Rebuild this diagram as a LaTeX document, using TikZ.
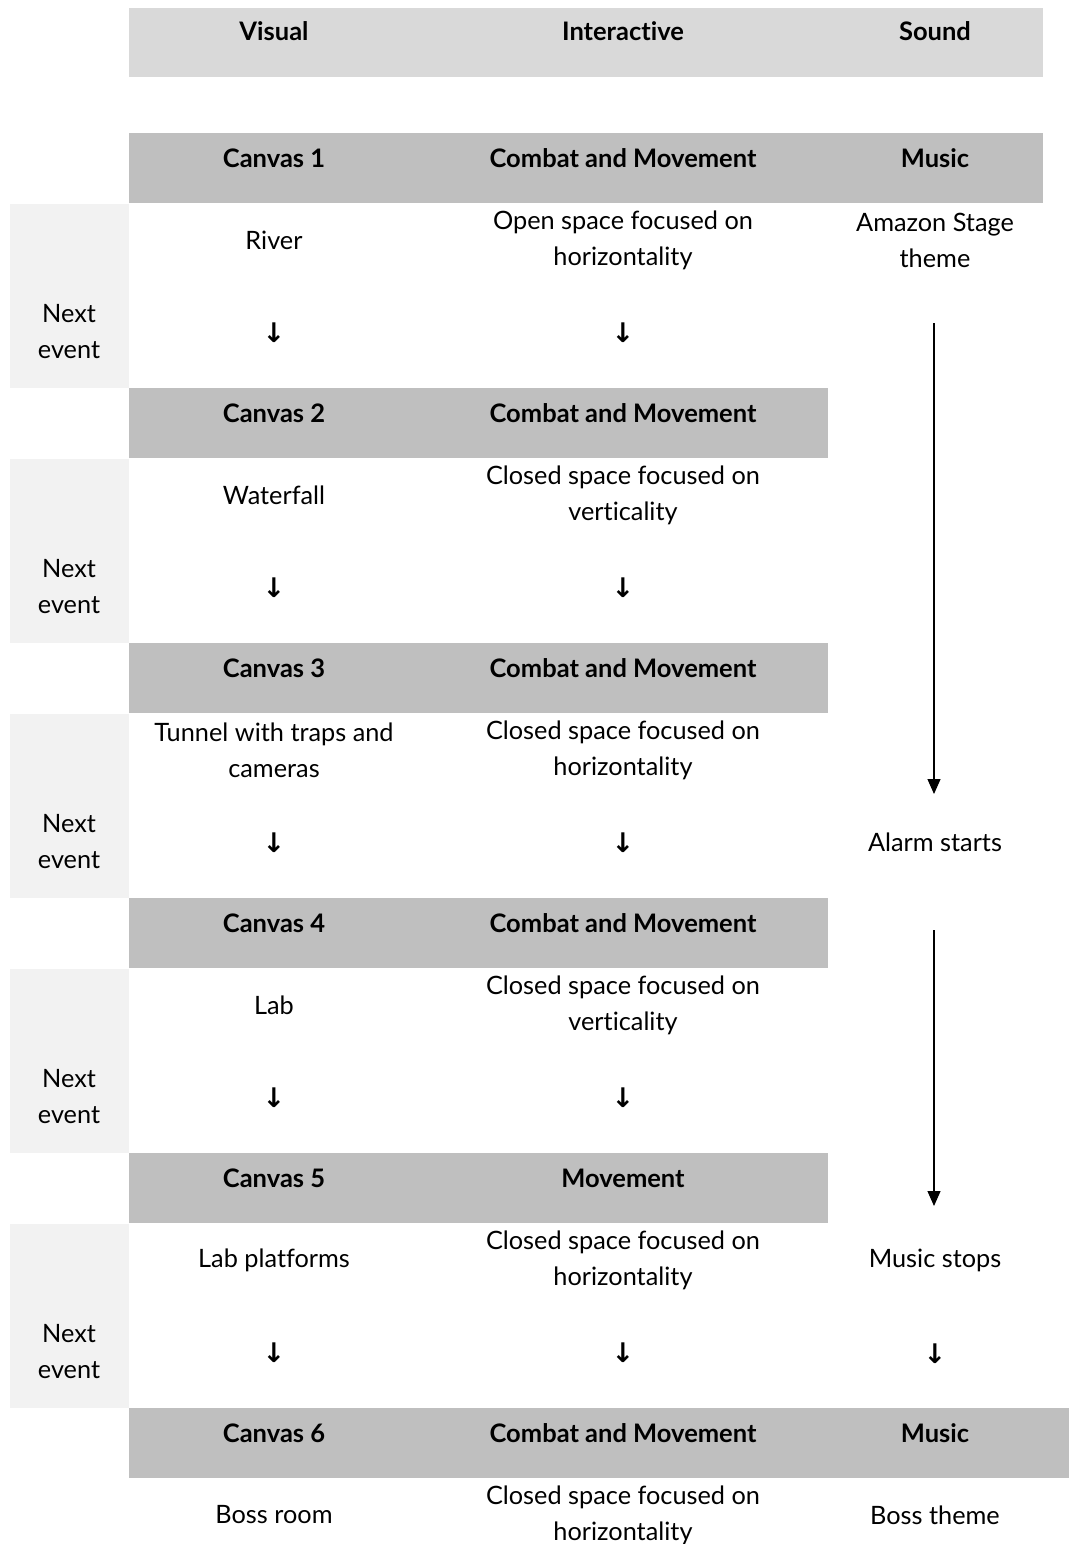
\documentclass[tikz,border=0pt]{standalone}
\usepackage{fontspec}
\setmainfont{Lato}[Ligatures=NoCommon]
\newfontfamily\arrowfont{DejaVu Sans}
\usetikzlibrary{arrows.meta}
\definecolor{headc}{HTML}{D9D9D9}
\definecolor{barc}{HTML}{BFBFBF}
\definecolor{sidec}{HTML}{F2F2F2}
\begin{document}
\begin{tikzpicture}[x=1pt,y=-1pt,
  txt/.style={font=\fontsize{25.3}{36}\selectfont, align=center, inner sep=0pt},
  hd/.style={txt, font=\fontsize{25.5}{36}\selectfont\bfseries},
  dn/.style={txt, font=\fontsize{27}{36}\selectfont\arrowfont\bfseries},
  longarrow/.style={line width=1.3pt, -{Triangle[length=15pt,width=13pt]}}]
\useasboundingbox (0,0) rectangle (1069,1544);
% header
\fill[headc] (129,8) rectangle (1043,77);
\node[hd] (hV) at (274,31) {Visual};
\node[hd] (hI) at (623,31) {Interactive};
\node[hd] (hS) at (935,31) {Sound};
% bars
\fill[barc] (129,133) rectangle (1043,203);
\fill[barc] (129,388) rectangle (828,458);
\fill[barc] (129,643) rectangle (828,713);
\fill[barc] (129,898) rectangle (828,968);
\fill[barc] (129,1153) rectangle (828,1223);
\fill[barc] (129,1408) rectangle (1069,1478);
% side boxes
\foreach \k in {0,...,4}{
  \fill[sidec] (10,204+255*\k) rectangle (129,388+255*\k);
}
% bar texts
\node[hd] (c1) at (274,158) {Canvas 1};
\node[hd] (i1) at (623,158) {Combat and Movement};
\node[hd] (s1) at (935,158) {Music};
\node[hd] (c2) at (274,413) {Canvas 2};
\node[hd] (i2) at (623,413) {Combat and Movement};
\node[hd] (c3) at (274,668) {Canvas 3};
\node[hd] (i3) at (623,668) {Combat and Movement};
\node[hd] (c4) at (274,923) {Canvas 4};
\node[hd] (i4) at (623,923) {Combat and Movement};
\node[hd] (c5) at (274,1178) {Canvas 5};
\node[hd] (i5) at (623,1178) {Movement};
\node[hd] (c6) at (274,1433) {Canvas 6};
\node[hd] (i6) at (623,1433) {Combat and Movement};
\node[hd] (s6) at (935,1433) {Music};
% next event labels
\node[txt] (n1) at (69,332) {Next\\event};
\node[txt] (n2) at (69,587) {Next\\event};
\node[txt] (n3) at (69,842) {Next\\event};
\node[txt] (n4) at (69,1097) {Next\\event};
\node[txt] (n5) at (69,1352) {Next\\event};
% content
\node[txt] (v1) at (274,240) {River};
\node[txt] (t1) at (623,240) {Open space focused on\\horizontality};
\node[txt] (m1) at (935,240) {Amazon Stage\\theme};
\node[txt] (v2) at (274,495) {Waterfall};
\node[txt] (t2) at (623,495) {Closed space focused on\\verticality};
\node[txt] (v3) at (274,750) {Tunnel with traps and\\cameras};
\node[txt] (t3) at (623,750) {Closed space focused on\\horizontality};
\node[txt] (v4) at (274,1005) {Lab};
\node[txt] (t4) at (623,1005) {Closed space focused on\\verticality};
\node[txt] (v5) at (274,1260) {Lab platforms};
\node[txt] (t5) at (623,1260) {Closed space focused on\\horizontality};
\node[txt] (m5) at (935,1260) {Music stops};
\node[txt] (v6) at (274,1515) {Boss room};
\node[txt] (t6) at (623,1515) {Closed space focused on\\horizontality};
\node[txt] (m6) at (935,1515) {Boss theme};
% down arrows (text)
\foreach \k in {0,...,4}{
  \node[dn] (dv\k) at (274,333+255*\k) {↓};
  \node[dn] (dt\k) at (623,333+255*\k) {↓};
}
\node[dn] (dm4) at (935,1354) {↓};
% sound column
\node[txt] (alarm) at (935,842) {Alarm starts};
\coordinate (a1s) at (934,323);
\coordinate (a1e) at (934,794);
\coordinate (a2s) at (934,930);
\coordinate (a2e) at (934,1206);
\draw[longarrow] (a1s) -- (a1e);
\draw[longarrow] (a2s) -- (a2e);
\end{tikzpicture}
\end{document}
